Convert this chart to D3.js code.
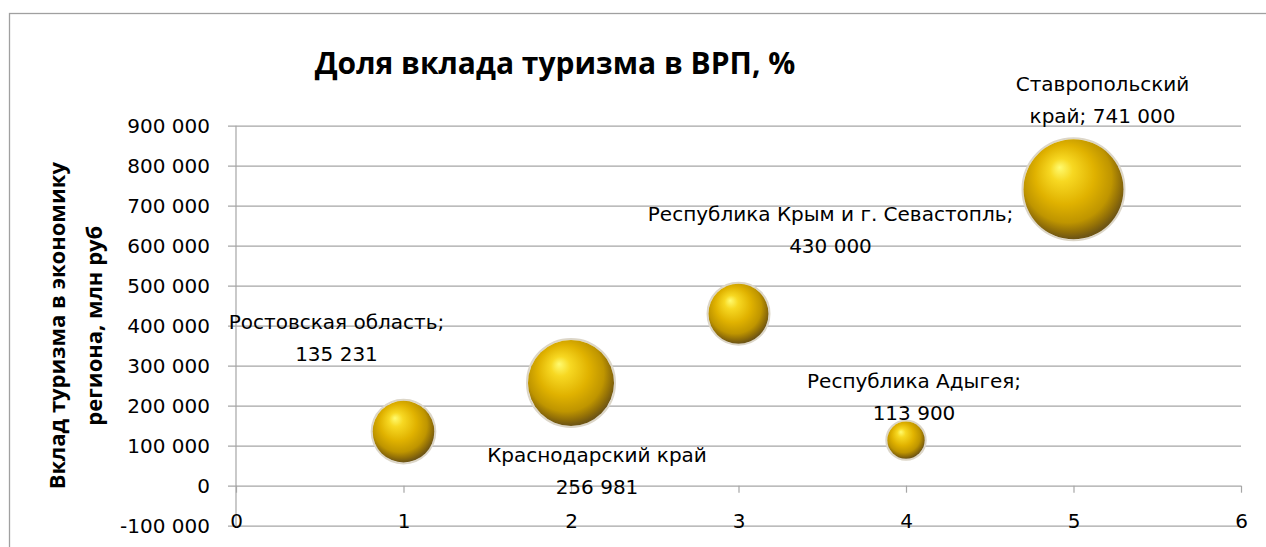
<!DOCTYPE html>
<html>
<head>
<meta charset="utf-8">
<script src="https://cdn.jsdelivr.net/npm/d3@7"></script>
<style>
    body { margin: 0; background: #ffffff; }
    .tickText { font-family: "DejaVu Sans", sans-serif; font-size: 20px; fill: #000; }
    .dataLabel { font-family: "DejaVu Sans", sans-serif; font-size: 20px; fill: #000; }
    .chartTitle { font-family: "Open Sans", sans-serif; font-size: 30px; font-weight: bold; fill: #000; }
    .yTitle { font-family: "Open Sans", sans-serif; font-size: 22px; font-weight: bold; fill: #000; }
</style>
</head>
<body>
<div id="bubble"></div>
<script>
// Bubble chart: share of tourism in GRP

// Data
var regions = [
    "Ростовская область",
    "Краснодарский край",
    "Республика Крым и г. Севастопль",
    "Республика Адыгея",
    "Ставропольский край"
];
var xValues = [1, 2, 3, 4, 5];
var yValues = [135231, 256981, 430000, 113900, 741000];
// bubble size = share of tourism in GRP, %
var bubbleSizes = [1.9, 3.7, 1.8, 0.7, 5.0];
var xTicks = [0, 1, 2, 3, 4, 5, 6];
var yTicks = [-100000, 0, 100000, 200000, 300000, 400000, 500000, 600000, 700000, 800000, 900000];

var chartTitle = "Доля вклада туризма в ВРП, %";
var yTitleLines = ["Вклад туризма в экономику", "региона, млн руб"];

// how each label text is split on two lines (as Excel wrapped them)
var labelBreak = ["semicolon", "plain", "semicolon", "semicolon", "inside name"];

// manual label nudges, px from the bubble centre (labels were dragged in the original)
var labelNudge = [[-67, -103], [26, 79], [92, -93], [8, -52], [29, -98]];

var width = 1266;
var height = 547;

// plot box
var plotLeft = 236;
var plotRight = 1241;
var plotTop = 125.7;
var plotBottom = 525.7;
var lineGap = 32;

var svg = d3
    .select("#bubble")
    .append("svg")
    .attr("width", width)
    .attr("height", height);

// number format with spaces as thousands separator
var ruLocale = d3.formatLocale({
    decimal: ",",
    thousands: " ",
    grouping: [3],
    currency: ["", " руб"],
    minus: "-"
});
var fmt = ruLocale.format(",d");

var xScale = d3.scaleLinear().domain([0, 6]).range([plotLeft, plotRight]);
var yScale = d3.scaleLinear().domain([-100000, 900000]).range([plotBottom, plotTop]);
var rScale = d3.scaleSqrt().domain([0, d3.max(bubbleSizes)]).range([0, 50]);

// gradient for the glossy gold spheres
var defs = svg.append("defs");
var grad = defs
    .append("radialGradient")
    .attr("id", "gold")
    .attr("cx", "46%")
    .attr("cy", "42%")
    .attr("r", "57%")
    .attr("fx", "36%")
    .attr("fy", "28%");
grad.append("stop").attr("offset", "0%").attr("stop-color", "#fffb70");
grad.append("stop").attr("offset", "20%").attr("stop-color", "#f7d822");
grad.append("stop").attr("offset", "52%").attr("stop-color", "#e0b200");
grad.append("stop").attr("offset", "78%").attr("stop-color", "#bf9500");
grad.append("stop").attr("offset", "92%").attr("stop-color", "#8f6d08");
grad.append("stop").attr("offset", "100%").attr("stop-color", "#6f5614");

// chart area border (only top and left edges are in the crop)
svg
    .append("rect")
    .attr("x", 9.5)
    .attr("y", 13.5)
    .attr("width", 1400)
    .attr("height", 700)
    .attr("fill", "none")
    .attr("stroke", "#a0a0a0")
    .attr("stroke-width", 1.3);

// Title
svg
    .append("text")
    .attr("class", "chartTitle")
    .attr("x", 555)
    .attr("y", 74)
    .attr("text-anchor", "middle")
    .text(chartTitle);

// Y gridlines + labels
var yAxis = d3
    .axisLeft(yScale)
    .tickValues(yTicks)
    .tickSize(-(plotRight - plotLeft + 8))
    .tickPadding(18)
    .tickFormat(fmt);

var yAxisG = svg
    .append("g")
    .attr("class", "yAxis")
    .attr("transform", "translate(" + (plotLeft - 8) + ",0)")
    .call(yAxis);
yAxisG.select(".domain").remove();
yAxisG.selectAll("line").attr("stroke", "#a6a6a6").attr("stroke-width", 1.2);
yAxisG
    .selectAll("text")
    .attr("class", "tickText")
    .attr("dy", "0.36em");

// vertical axis line
svg
    .append("line")
    .attr("x1", xScale(0))
    .attr("x2", xScale(0))
    .attr("y1", yScale(900000))
    .attr("y2", yScale(-100000))
    .attr("stroke", "#a6a6a6")
    .attr("stroke-width", 1.2);

// X axis sits at y = 0, labels fall to the bottom of the plot
var xAxis = d3
    .axisBottom(xScale)
    .tickValues(xTicks)
    .tickSize(7)
    .tickPadding(21)
    .tickFormat(d3.format("d"));

var xAxisG = svg
    .append("g")
    .attr("class", "xAxis")
    .attr("transform", "translate(0," + yScale(0) + ")")
    .call(xAxis);
xAxisG.select(".domain").remove();
xAxisG.selectAll("line").attr("stroke", "#a6a6a6").attr("stroke-width", 1.2);
xAxisG.selectAll("text").attr("class", "tickText");

// Y axis title, two lines
var yTitle = svg
    .append("text")
    .attr("class", "yTitle")
    .attr("transform", "translate(65," + (plotTop + plotBottom) / 2 + ")rotate(-90)")
    .attr("text-anchor", "middle");
yTitle
    .selectAll("tspan")
    .data(yTitleLines)
    .enter()
    .append("tspan")
    .attr("x", 0)
    .attr("y", function(d, i) {
        return i * 37;
    })
    .text(function(d) {
        return d;
    });

// build point table
var points = regions.map(function(name, i) {
    var lines;
    if (labelBreak[i] === "inside name") {
        var parts = name.split(" ");
        lines = [parts[0], parts.slice(1).join(" ") + "; " + fmt(yValues[i])];
    } else if (labelBreak[i] === "plain") {
        lines = [name, fmt(yValues[i])];
    } else {
        lines = [name + ";", fmt(yValues[i])];
    }
    return {
        name: name,
        x: xValues[i],
        y: yValues[i],
        size: bubbleSizes[i],
        lines: lines,
        nudge: labelNudge[i]
    };
});

// Bubbles (big ones first so small ones stay on top)
var bubbles = svg
    .append("g")
    .attr("class", "bubbles")
    .selectAll("g")
    .data(points.slice().sort(function(a, b) {
        return b.size - a.size;
    }))
    .enter()
    .append("g");

// soft light halo around each sphere
bubbles
    .append("circle")
    .attr("cx", function(d) {
        return xScale(d.x);
    })
    .attr("cy", function(d) {
        return yScale(d.y);
    })
    .attr("r", function(d) {
        return rScale(d.size) + 1;
    })
    .attr("fill", "none")
    .attr("stroke", "#dcd6c8")
    .attr("stroke-width", 2);

bubbles
    .append("circle")
    .attr("cx", function(d) {
        return xScale(d.x);
    })
    .attr("cy", function(d) {
        return yScale(d.y);
    })
    .attr("r", function(d) {
        return rScale(d.size);
    })
    .attr("fill", "url(#gold)");

// Data labels
var labels = svg
    .append("g")
    .attr("class", "labels")
    .selectAll("text")
    .data(points)
    .enter()
    .append("text")
    .attr("class", "dataLabel")
    .attr("text-anchor", "middle");

labels
    .selectAll("tspan")
    .data(function(d) {
        return d.lines.map(function(t, i) {
            return { t: t, i: i, p: d };
        });
    })
    .enter()
    .append("tspan")
    .attr("x", function(d) {
        return xScale(d.p.x) + d.p.nudge[0];
    })
    .attr("y", function(d) {
        return yScale(d.p.y) + d.p.nudge[1] + d.i * lineGap;
    })
    .text(function(d) {
        return d.t;
    });
</script>
</body>
</html>
